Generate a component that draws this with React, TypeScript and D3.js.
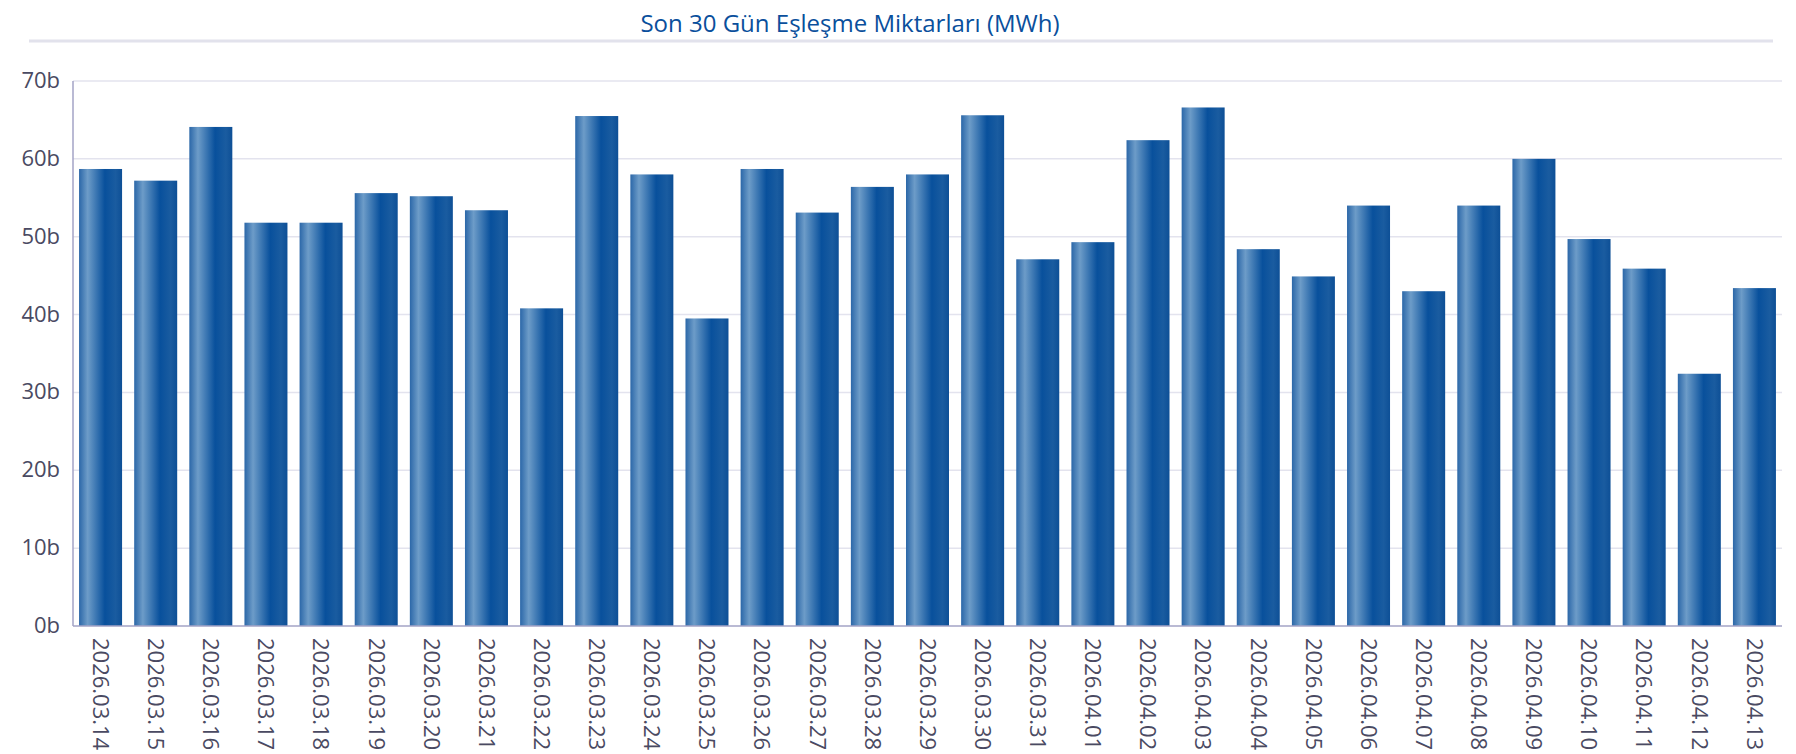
import {useEffect, useRef} from 'react';
import * as d3 from 'd3';

const dates = [
  '2026.03.14', '2026.03.15', '2026.03.16', '2026.03.17', '2026.03.18', '2026.03.19',
  '2026.03.20', '2026.03.21', '2026.03.22', '2026.03.23', '2026.03.24', '2026.03.25',
  '2026.03.26', '2026.03.27', '2026.03.28', '2026.03.29', '2026.03.30', '2026.03.31',
  '2026.04.01', '2026.04.02', '2026.04.03', '2026.04.04', '2026.04.05', '2026.04.06',
  '2026.04.07', '2026.04.08', '2026.04.09', '2026.04.10', '2026.04.11', '2026.04.12',
  '2026.04.13',
];

// values in billions (b)
const amounts = [
  58.7, 57.2, 64.1, 51.8, 51.8, 55.6, 55.2, 53.4, 40.8, 65.5, 58.0, 39.5,
  58.7, 53.1, 56.4, 58.0, 65.6, 47.1, 49.3, 62.4, 66.6, 48.4, 44.9, 54.0,
  43.0, 54.0, 60.0, 49.7, 45.9, 32.4, 43.4,
];

const yTicks = [0, 10, 20, 30, 40, 50, 60, 70];

const title = 'Son 30 Gün Eşleşme Miktarları (MWh)';

const App = () => {
  const svgRef = useRef<SVGSVGElement>(null);
  const width = 1796;
  const height = 754;

  useEffect(() => {
    const svg = d3.select(svgRef.current);
    svg.selectAll('*').remove();

    const margin = {top: 81, right: 14, bottom: 128, left: 73};
    const innerWidth = width - margin.left - margin.right;
    const innerHeight = height - margin.top - margin.bottom;
    const font = '"Open Sans", "Noto Sans", sans-serif';

    const defs = svg.append('defs');
    const grad = defs.append('linearGradient')
      .attr('id', 'barGrad')
      .attr('x1', '0%').attr('x2', '100%')
      .attr('y1', '0%').attr('y2', '0%');
    grad.append('stop').attr('offset', '0%').attr('stop-color', '#2b67a8');
    grad.append('stop').attr('offset', '20%').attr('stop-color', '#6d9cc8');
    grad.append('stop').attr('offset', '60%').attr('stop-color', '#08509c');
    grad.append('stop').attr('offset', '85%').attr('stop-color', '#1a5ca0');
    grad.append('stop').attr('offset', '100%').attr('stop-color', '#0d4f96');

    // Title
    svg.append('text')
      .attr('x', 850)
      .attr('y', 32)
      .attr('text-anchor', 'middle')
      .style('font-family', font)
      .style('font-size', '24px')
      .style('fill', '#0a4f9c')
      .text(title);

    svg.append('line')
      .attr('x1', 29).attr('x2', 1773)
      .attr('y1', 41).attr('y2', 41)
      .attr('stroke', '#e2e2ec')
      .attr('stroke-width', 3);

    const xScale = d3.scaleBand<string>()
      .domain(dates)
      .range([0, innerWidth])
      .paddingInner(0.22)
      .paddingOuter(0.11);

    const yScale = d3.scaleLinear()
      .domain([0, 70])
      .range([innerHeight, 0]);

    const g = svg.append('g')
      .attr('transform', `translate(${margin.left}, ${margin.top})`);

    // Grid
    g.append('g')
      .selectAll('line')
      .data(yTicks.filter(t => t > 0))
      .enter().append('line')
      .attr('x1', 0).attr('x2', innerWidth)
      .attr('y1', d => yScale(d)).attr('y2', d => yScale(d))
      .attr('stroke', '#e3e3ee')
      .attr('stroke-width', 1.5);

    // Bars
    g.selectAll('.bar')
      .data(amounts)
      .enter().append('rect')
      .attr('class', 'bar')
      .attr('x', (d, i) => xScale(dates[i]) as number)
      .attr('y', d => yScale(d))
      .attr('width', xScale.bandwidth())
      .attr('height', d => innerHeight - yScale(d))
      .attr('fill', 'url(#barGrad)');

    // Axes lines
    g.append('line')
      .attr('x1', 0).attr('x2', 0)
      .attr('y1', 0).attr('y2', innerHeight)
      .attr('stroke', '#a3a3c6')
      .attr('stroke-width', 1.5);
    g.append('line')
      .attr('x1', 0).attr('x2', innerWidth)
      .attr('y1', innerHeight).attr('y2', innerHeight)
      .attr('stroke', '#a3a3c6')
      .attr('stroke-width', 1.5);

    // Y labels
    g.append('g')
      .selectAll('text')
      .data(yTicks)
      .enter().append('text')
      .attr('x', -13)
      .attr('y', d => yScale(d))
      .attr('dy', '0.32em')
      .attr('text-anchor', 'end')
      .style('font-family', font)
      .style('font-size', '22px')
      .style('fill', '#4a4a62')
      .text(d => `${d}b`);

    // X labels
    g.append('g')
      .selectAll('text')
      .data(dates)
      .enter().append('text')
      .attr('transform', d => `translate(${(xScale(d) as number) + xScale.bandwidth() / 2}, ${innerHeight + 12}) rotate(90)`)
      .attr('dy', '0.35em')
      .attr('text-anchor', 'start')
      .style('font-family', font)
      .style('font-size', '22px')
      .style('fill', '#4a4a62')
      .text(d => d);
  }, []);

  return <svg ref={svgRef} width={width} height={height} style={{display: 'block', position: 'absolute', left: 0, top: 0}}/>;
};

export default App;
